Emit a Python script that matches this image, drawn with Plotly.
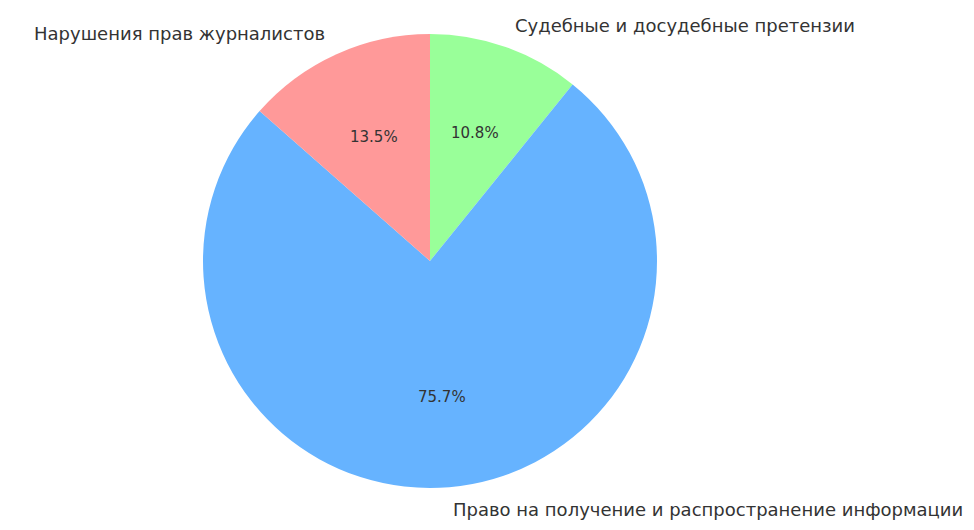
import numpy as np
import plotly.graph_objects as go

# slices listed clockwise from 12 o'clock
labels = ["Судебные и досудебные претензии", "Право на получение и распространение информации", "Нарушения прав журналистов"]
values = [4, 28, 5]
colors = ["#99ff99", "#66b3ff", "#ff9999"]

W, H = 974, 530
OFF = 8  # page body margin
cx_px, cy_px, r_px = 430 - OFF, 261 - OFF, 227
dom_x = [(cx_px - r_px) / W, (cx_px + r_px) / W]
dom_y = [(H - cy_px - r_px) / H, (H - cy_px + r_px) / H]

fig = go.Figure(go.Pie(
    labels=labels, values=values, sort=False, direction="clockwise",
    rotation=0, marker=dict(colors=colors, line=dict(width=0)),
    textinfo="none", hoverinfo="label+percent", showlegend=False,
    domain=dict(x=dom_x, y=dom_y),
))

total = sum(values)
start = 90.0
cx = cx_px / W
cy = (H - cy_px) / H
txtcol = "#333333"
for lab, v in zip(labels, values):
    frac = v / total
    mid = np.deg2rad(start - frac * 360 / 2)
    start -= frac * 360
    lx = cx + 1.1 * r_px * np.cos(mid) / W
    ly = cy + 1.1 * r_px * np.sin(mid) / H
    fig.add_annotation(x=lx, y=ly, xref="paper", yref="paper", text=lab,
                       showarrow=False, xanchor="right" if np.cos(mid) < 0 else "left",
                       yanchor="middle", font=dict(size=18, color=txtcol))
    px_ = cx + 0.6 * r_px * np.cos(mid) / W
    py_ = cy + 0.6 * r_px * np.sin(mid) / H
    fig.add_annotation(x=px_, y=py_, xref="paper", yref="paper",
                       text=f"{frac*100:.1f}%", showarrow=False,
                       xanchor="center", yanchor="middle",
                       font=dict(size=15, color=txtcol))

fig.update_layout(
    width=W, height=H, margin=dict(l=0, r=0, t=0, b=0),
    paper_bgcolor="white", plot_bgcolor="white",
    font=dict(family="DejaVu Sans"),
)
fig.write_html("out.html")
